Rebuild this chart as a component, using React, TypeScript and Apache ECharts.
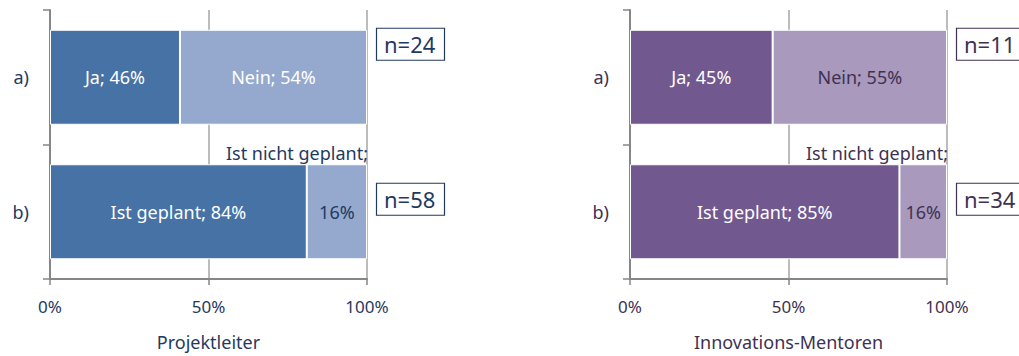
import React, { useEffect, useRef } from "react";
import * as echarts from "echarts";

const categories = ["a)", "b)"];
const tickLabels = ["0%", "50%", "100%"];

// Projektleiter (bar lengths as drawn, labels as printed)
const plDark = [41, 81];
const plLight = [59, 19];
const plDarkLabels = ["Ja; 46%", "Ist geplant; 84%"];
const plLightLabels = ["Nein; 54%", "16%"];
const plN = ["n=24", "n=58"];

// Innovations-Mentoren
const imDark = [45, 85];
const imLight = [55, 15];
const imDarkLabels = ["Ja; 45%", "Ist geplant; 85%"];
const imLightLabels = ["Nein; 55%", "16%"];
const imN = ["n=11", "n=34"];

const notPlannedLabel = "Ist nicht geplant;";
const panelNames = ["Projektleiter", "Innovations-Mentoren"];

const FONT = "Noto Sans";

export default function App() {
  const ref = useRef<HTMLDivElement>(null);
  useEffect(() => {
    document.body.style.margin = "0";
    const chart = echarts.init(ref.current!, null, { renderer: "svg" });
    const panels = [
      {
        left: 50,
        dark: plDark,
        light: plLight,
        dl: plDarkLabels,
        ll: plLightLabels,
        n: plN,
        cDark: "#4672A6",
        cLight: "#95A9CF",
        text: "#1F3A60",
        lightText: ["#ffffff", "#1F3A60"],
        name: panelNames[0],
      },
      {
        left: 630,
        dark: imDark,
        light: imLight,
        dl: imDarkLabels,
        ll: imLightLabels,
        n: imN,
        cDark: "#71588F",
        cLight: "#A899BD",
        text: "#3F3151",
        lightText: ["#3F3151", "#3F3151"],
        name: panelNames[1],
      },
    ];
    const grids: any[] = [];
    const xAxes: any[] = [];
    const yAxes: any[] = [];
    const series: any[] = [];
    panels.forEach((p, i) => {
      grids.push({
        left: p.left,
        top: 10,
        width: 317,
        height: 269,
        containLabel: false,
        outerBoundsMode: "none",
      });
      xAxes.push({
        gridIndex: i,
        type: "value",
        min: 0,
        max: 100,
        interval: 50,
        name: p.name,
        nameLocation: "middle",
        nameGap: 54,
        nameTextStyle: { fontFamily: FONT, fontSize: 18, color: p.text },
        axisLine: { show: true, lineStyle: { color: "#868686", width: 2 } },
        axisTick: { show: true, length: 6, lineStyle: { color: "#868686", width: 1.5 } },
        axisLabel: {
          margin: 19,
          fontFamily: FONT,
          fontSize: 17,
          color: p.text,
          formatter: (v: number) => tickLabels[Math.round(v / 50)],
        },
        splitLine: { show: true, lineStyle: { color: "#a6a6a6", width: 1.5 } },
      });
      yAxes.push({
        gridIndex: i,
        type: "category",
        data: categories,
        inverse: true,
        axisLine: { show: true, lineStyle: { color: "#868686", width: 2 } },
        axisTick: { show: true, length: 7, lineStyle: { color: "#868686", width: 1.5 } },
        axisLabel: { margin: 21, fontFamily: FONT, fontSize: 18, color: p.text },
        splitLine: { show: false },
      });
      series.push({
        type: "bar",
        xAxisIndex: i,
        yAxisIndex: i,
        stack: "s" + i,
        barWidth: 95,
        data: p.dark,
        itemStyle: { color: p.cDark, borderColor: "#ffffff", borderWidth: 1 },
        label: {
          show: true,
          position: "inside",
          fontFamily: FONT,
          fontSize: 18,
          color: "#ffffff",
          formatter: (d: any) => p.dl[d.dataIndex],
        },
      });
      series.push({
        type: "bar",
        xAxisIndex: i,
        yAxisIndex: i,
        stack: "s" + i,
        barWidth: 95,
        data: p.light.map((v, k) => ({
          value: v,
          label: { color: p.lightText[k] },
        })),
        itemStyle: { color: p.cLight, borderColor: "#ffffff", borderWidth: 1 },
        label: {
          show: true,
          position: "inside",
          fontFamily: FONT,
          fontSize: 18,
          formatter: (d: any) => p.ll[d.dataIndex],
        },
      });
    });
    chart.setOption({
      animation: false,
      grid: grids,
      xAxis: xAxes,
      yAxis: yAxes,
      series,
    });

    const graphics: any[] = [];
    panels.forEach((p, i) => {
      const pa = chart.convertToPixel({ gridIndex: i } as any, [100, categories[0]]) as number[];
      const pb = chart.convertToPixel({ gridIndex: i } as any, [100, categories[1]]) as number[];
      graphics.push({
        type: "text",
        x: pb[0] + 1,
        y: pb[1] - 47.5 - 11,
        style: {
          text: notPlannedLabel,
          fontFamily: FONT,
          fontSize: 18,
          fill: p.text,
          align: "right",
          verticalAlign: "middle",
        },
      });
      const boxes = [
        { y: pa[1] - 49.5, t: p.n[0] },
        { y: pb[1] - 29, t: p.n[1] },
      ];
      boxes.forEach((b) => {
        graphics.push({
          type: "rect",
          shape: { x: pa[0] + 9.5, y: b.y + 0.5, width: 68, height: 32 },
          style: { fill: "#ffffff", stroke: p.text, lineWidth: 1.2 },
        });
        graphics.push({
          type: "text",
          x: pa[0] + 17,
          y: b.y + 16.5,
          style: {
            text: b.t,
            fontFamily: FONT,
            fontSize: 22,
            fill: p.text,
            align: "left",
            verticalAlign: "middle",
          },
        });
      });
    });
    chart.setOption({ graphic: graphics });
    return () => chart.dispose();
  }, []);
  return <div ref={ref} style={{ width: 1019, height: 356 }} />;
}
